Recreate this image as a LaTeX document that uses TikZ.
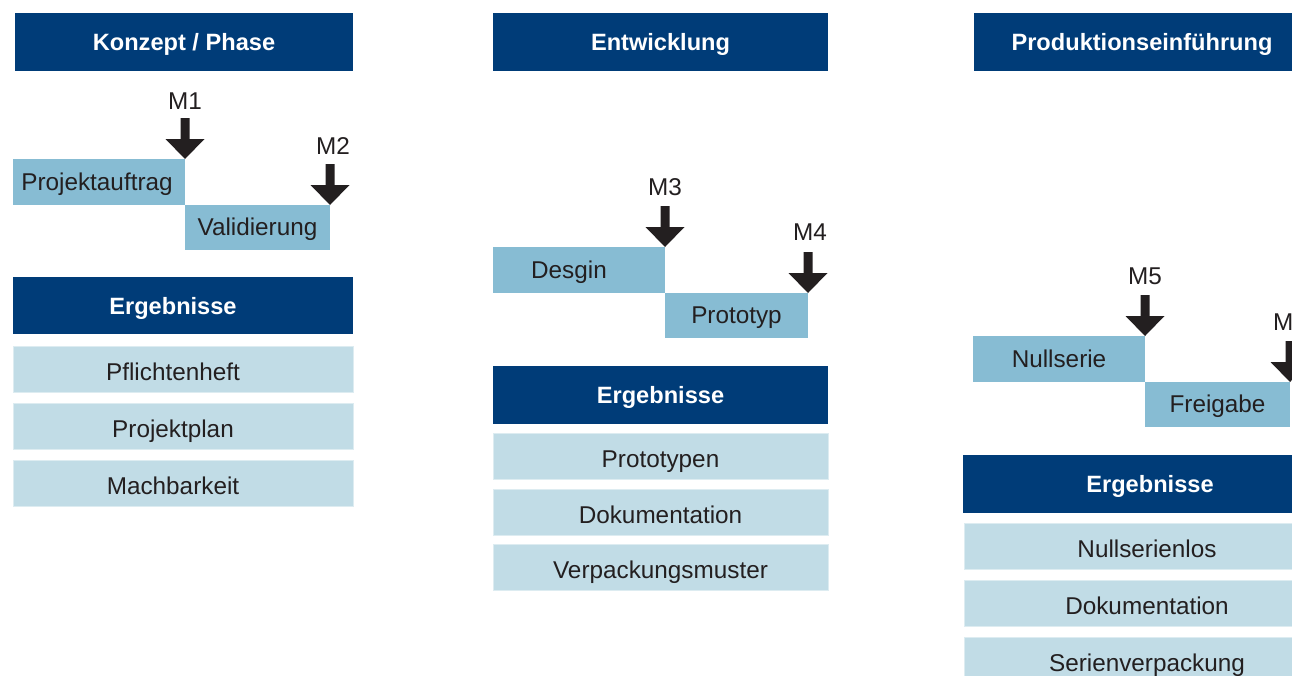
\documentclass[tikz,border=0pt]{standalone}
\usepackage{fontspec}
\setmainfont{Liberation Sans}
\definecolor{headc}{HTML}{003C78}
\definecolor{phasec}{HTML}{87BCD3}
\definecolor{resc}{HTML}{C1DCE6}
\definecolor{inkc}{HTML}{231F20}
\tikzset{
  base/.style={anchor=north west, inner sep=0pt, outer sep=0pt, align=center, text depth=0pt},
  headbox/.style={base, fill=headc, text=white, minimum height=58pt, text height=16pt,
    font=\fontsize{23.6}{28}\selectfont\bfseries},
  phasebox/.style={base, fill=phasec, text=inkc, minimum height=46pt, text height=16pt,
    font=\fontsize{24.3}{28}\selectfont},
  resbox/.style={base, fill=resc, draw=resc!55!white, line width=0.8pt, text=inkc,
    minimum height=46pt, text height=22pt, font=\fontsize{24.3}{28}\selectfont},
  mlabel/.style={inner sep=0pt, text=inkc, font=\fontsize{24.3}{28}\selectfont},
  milestone/.pic={\fill[inkc] (0,0) -- (-19.5,-20) -- (-4.5,-20) -- (-4.5,-41)
     -- (4.5,-41) -- (4.5,-20) -- (19.5,-20) -- cycle;}
}
\newcommand{\lft}[1]{\hspace*{-20pt}#1}
\begin{document}
\begin{tikzpicture}[x=1pt,y=-1pt]
\useasboundingbox (0,0) rectangle (1292,675);
\clip (0,0) rectangle (1292,675);
% column 1
\node[headbox, minimum width=338pt] (h1) at (15,13) {Konzept / Phase};
\node[phasebox, minimum width=172pt] (pa) at (13,159) {\hspace*{-4pt}Projektauftrag};
\node[phasebox, minimum width=145pt, minimum height=45pt] (pb) at (pa.south east) {Validierung};
\node[headbox, minimum width=340pt, minimum height=57pt, text height=18pt] (e1) at (13,277) {\lft{Ergebnisse}};
\node[resbox, minimum width=340pt] (r11) at (13,346) {\lft{Pflichtenheft}};
\node[resbox, minimum width=340pt] (r12) at (13,403) {\lft{Projektplan}};
\node[resbox, minimum width=340pt] (r13) at (13,460) {\lft{Machbarkeit}};
\pic at (pa.north east) {milestone};
\node[mlabel] (m1) at ([yshift=58pt]pa.north east) {M1};
\pic at (pb.north east) {milestone};
\node[mlabel] (m2) at ([xshift=3pt,yshift=59pt]pb.north east) {M2};
% column 2
\node[headbox, minimum width=335pt] (h2) at (493,13) {Entwicklung};
\node[phasebox, minimum width=172pt] (pc) at (493,247) {\lft{Desgin}};
\node[phasebox, minimum width=143pt, minimum height=45pt] (pd) at (pc.south east) {Prototyp};
\node[headbox, minimum width=335pt] (e2) at (493,366) {Ergebnisse};
\node[resbox, minimum width=335pt] (r21) at (493,433) {Prototypen};
\node[resbox, minimum width=335pt] (r22) at (493,489) {Dokumentation};
\node[resbox, minimum width=335pt] (r23) at (493,544) {Verpackungsmuster};
\pic at (pc.north east) {milestone};
\node[mlabel] (m3) at ([yshift=60pt]pc.north east) {M3};
\pic at (pd.north east) {milestone};
\node[mlabel] (m4) at ([xshift=2pt,yshift=61pt]pd.north east) {M4};
% column 3
\node[headbox, minimum width=336pt] (h3) at (974,13) {Produktionseinführung};
\node[phasebox, minimum width=172pt] (pe) at (973,336) {Nullserie};
\node[phasebox, minimum width=145pt, minimum height=45pt] (pf) at (pe.south east) {Freigabe};
\node[headbox, minimum width=374pt] (e3) at (963,455) {Ergebnisse};
\node[resbox, minimum width=366pt] (r31) at (964,523) {Nullserienlos};
\node[resbox, minimum width=366pt] (r32) at (964,580) {Dokumentation};
\node[resbox, minimum width=366pt] (r33) at (964,637) {Serienverpackung};
\pic at (pe.north east) {milestone};
\node[mlabel] (m5) at ([yshift=60pt]pe.north east) {M5};
\pic at (pf.north east) {milestone};
\node[mlabel] (m6) at ([yshift=60pt]pf.north east) {M6};
\end{tikzpicture}
\end{document}
